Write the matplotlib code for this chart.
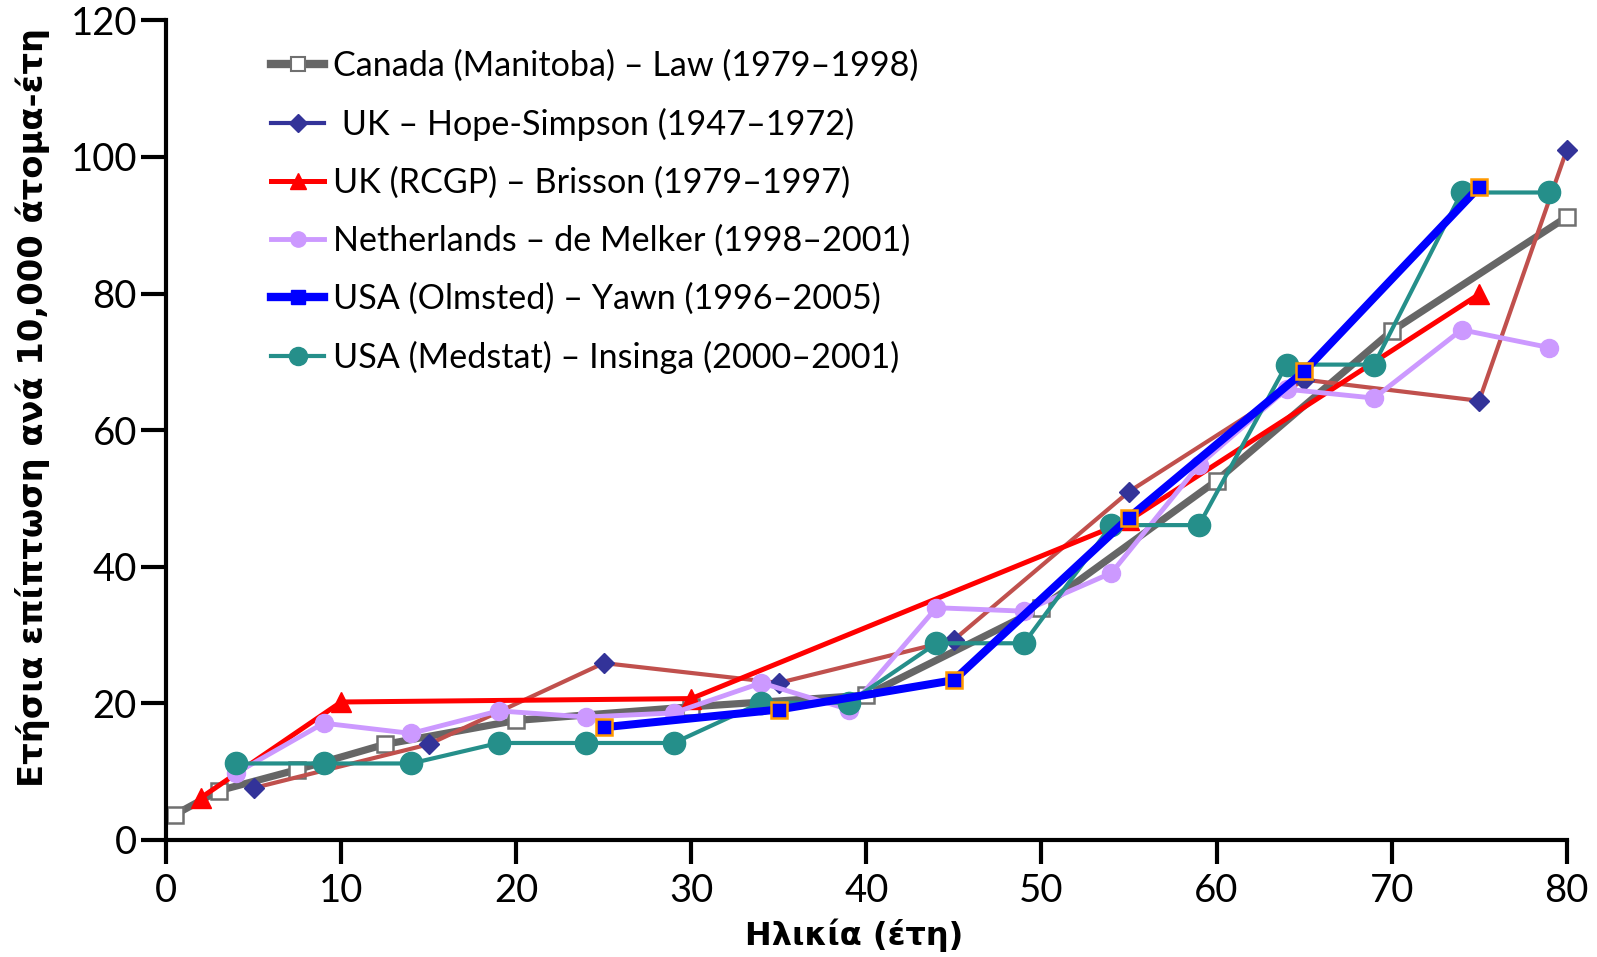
import matplotlib.pyplot as plt
from matplotlib.lines import Line2D

# Incidence per 10,000 person-years by age, six studies
law_age = [0.5, 3, 7.5, 12.5, 20, 30, 40, 50, 60, 70, 80]
law_rate = [3.7, 7.2, 10.3, 14.0, 17.5, 19.5, 21.2, 34.0, 52.6, 74.5, 91.2]

hope_age = [5, 15, 25, 35, 45, 55, 65, 75, 80]
hope_rate = [7.6, 14.0, 25.9, 23.0, 29.3, 51.0, 67.4, 64.3, 101.0]

brisson_age = [2, 10, 30, 55, 75]
brisson_rate = [6.2, 20.2, 20.7, 46.8, 79.9]

melker_age = [4, 9, 14, 19, 24, 29, 34, 39, 44, 49, 54, 59, 64, 69, 74, 79]
melker_rate = [9.8, 17.1, 15.6, 18.9, 18.0, 18.6, 23.0, 19.1,
               34.0, 33.5, 39.1, 54.9, 66.0, 64.7, 74.7, 72.1]

yawn_age = [25, 35, 45, 55, 65, 75]
yawn_rate = [16.5, 19.1, 23.4, 47.2, 68.6, 95.6]

insinga_age = [4, 9, 14, 19, 24, 29, 34, 39, 44, 49, 54, 59, 64, 69, 74, 79]
insinga_rate = [11.2, 11.2, 11.2, 14.2, 14.2, 14.2, 20.1, 20.1,
                28.8, 28.8, 46.1, 46.1, 69.6, 69.6, 94.8, 94.8]

labels = ["Canada (Manitoba) – Law (1979–1998)",
          " UK – Hope-Simpson (1947–1972)",
          "UK (RCGP) – Brisson (1979–1997)",
          "Netherlands – de Melker (1998–2001)",
          "USA (Olmsted) – Yawn (1996–2005)",
          "USA (Medstat) – Insinga (2000–2001)"]

GRAY = '#666666'
BROWN = '#C0504D'
NAVY = '#333399'
RED = '#FF0000'
LILAC = '#CC99FF'
BLUE = '#0000FF'
ORANGE = '#FF9900'
TEAL = '#258F8A'

plt.rcParams['font.family'] = ['Lato', 'DejaVu Sans']

fig = plt.figure(figsize=(15.97, 9.57), dpi=100)
ax = fig.add_axes([0.104, 0.1223, 0.877, 0.8564])

ax.plot(law_age, law_rate, color=GRAY, lw=5.2, marker='s', ms=12,
        mfc='white', mec='#707070', mew=1.8, clip_on=False, zorder=2)
ax.plot(hope_age, hope_rate, color=BROWN, lw=3, marker='D', ms=10,
        mfc=NAVY, mec=NAVY, clip_on=False, zorder=3)
ax.plot(brisson_age, brisson_rate, color=RED, lw=3.6, marker='^', ms=14,
        mfc=RED, mec=RED, clip_on=False, zorder=4)
ax.plot(melker_age, melker_rate, color=LILAC, lw=3.5, marker='o', ms=13,
        mfc=LILAC, mec=LILAC, clip_on=False, zorder=5)
ax.plot(insinga_age, insinga_rate, color=TEAL, lw=3, marker='o', ms=16,
        mfc=TEAL, mec=TEAL, clip_on=False, zorder=6)
ax.plot(yawn_age, yawn_rate, color=BLUE, lw=5.8, marker='s', ms=12,
        mfc=BLUE, mec=ORANGE, mew=1.8, clip_on=False, zorder=7)

ax.set_xlim(0, 80)
ax.set_ylim(0, 120)
ax.set_xticks(range(0, 81, 10))
ax.set_yticks(range(0, 121, 20))
for side in ['top', 'right']:
    ax.spines[side].set_visible(False)
for side in ['left', 'bottom']:
    ax.spines[side].set_linewidth(3)
ax.tick_params(axis='both', direction='out', width=3, labelsize=27.5)
ax.tick_params(axis='x', length=17, pad=7)
ax.tick_params(axis='y', length=18, pad=3)

ax.set_xlabel('Ηλικία (έτη)', family='DejaVu Sans',
              fontweight='bold', fontsize=23)
ax.set_ylabel('Ετήσια επίπτωση ανά 10,000 άτομα-έτη',
              family='DejaVu Sans', fontweight='bold', fontsize=24.3)
ax.xaxis.set_label_coords(0.491, -0.096)
ax.yaxis.set_label_coords(-0.083, 0.528)

# legend handles drawn separately so the marker styles show as in the key
handles = [
    Line2D([], [], color=GRAY, lw=6, marker='s', ms=10, mfc='white', mec='#707070', mew=1.5),
    Line2D([], [], color=NAVY, lw=3, marker='D', ms=9, mfc=NAVY, mec=NAVY),
    Line2D([], [], color=RED, lw=3.6, marker='^', ms=11, mfc=RED, mec=RED),
    Line2D([], [], color=LILAC, lw=3.5, marker='o', ms=11, mfc=LILAC, mec=LILAC),
    Line2D([], [], color=BLUE, lw=6, marker='s', ms=10, mfc=BLUE, mec=BLUE),
    Line2D([], [], color=TEAL, lw=3, marker='o', ms=13, mfc=TEAL, mec=TEAL),
]
ax.legend(handles, labels, loc='upper left', bbox_to_anchor=(0.058, 0.994),
          frameon=False, fontsize=24.6, handlelength=1.55, handletextpad=0.25,
          labelspacing=0.76, borderaxespad=0.3)

fig.savefig('out.png', dpi=100)
